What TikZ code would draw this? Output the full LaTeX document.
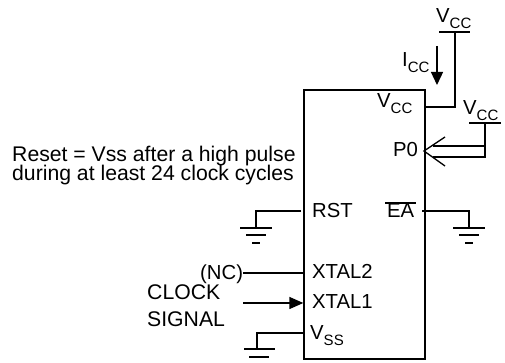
\documentclass[tikz,border=0pt]{standalone}
\usepackage{fontspec}
\setmainfont{Liberation Sans}
\usetikzlibrary{arrows.meta}
\usetikzlibrary{calc}
\tikzset{
    lbl/.style={inner sep=0pt,anchor=base west,font=\fontsize{20.3}{22}\selectfont},
    note/.style={lbl,font=\fontsize{21.2}{22}\selectfont},
    wire/.style={line width=1.3pt}
}
\newcommand{\subbed}[2]{#1\raisebox{-6pt}{\fontsize{15}{15}\selectfont #2}}
% ground symbol, three bars under a named point
\newcommand{\gnd}[1]{
\draw[wire] ($(#1)+(-16,0)$) -- ($(#1)+(16,0)$);
\draw[wire] ($(#1)+(-10,-7)$) -- ($(#1)+(10,-7)$);
\draw[wire] ($(#1)+(-4,-15)$) -- ($(#1)+(4,-15)$);
}
\begin{document}
\begin{tikzpicture}[x=1pt,y=1pt]
\useasboundingbox (0,0) rectangle (505,363);

\node[draw,line width=1.3pt,inner sep=0pt,minimum width=121pt,minimum height=269pt]
    (chip) at (364.5,138.5) {};

% supply
\node[lbl] (lvcctop) at (436,340) {\subbed{V}{CC}};
\node[lbl] (licc) at (402,296) {\subbed{I}{CC}};
\node[lbl] (lvccin) at (377,255) {\subbed{V}{CC}};
\node[lbl] (lvccp) at (463,248) {\subbed{V}{CC}};
\node[lbl] (lp0) at (393,206) {P0};
\coordinate (vcctop) at (455,331);
\coordinate (vccpin) at (425,256);
\draw[wire] (439,331) -- (470,331);
\draw[wire] (vccpin) -| (vcctop);
\coordinate (icca) at (437,317);
\coordinate (iccb) at (437,278);
\draw[wire,-{Triangle[length=13pt,width=12pt]}] (icca) -- (iccb);

\coordinate (vccp) at (485,240);
\coordinate (pa) at (433,217);
\coordinate (pb) at (433,206);
\draw[wire] (469,240) -- (501,240);
\draw[wire] (vccp) |- (pa);
\draw[wire] (vccp) |- (pb);
\draw[wire] (445,226) -- (424,212) -- (445,197);

% pins
\node[lbl] (lrst) at (312,145) {RST};
\node[lbl] (lea) at (387,145) {EA};
\node[lbl] (lxtalb) at (312,84) {XTAL2};
\node[lbl] (lxtala) at (312,54) {XTAL1};
\node[lbl] (lvss) at (310,23) {\subbed{V}{SS}};
\draw[wire] (385,160) -- (416,160);

\coordinate (rstp) at (301,152);
\coordinate (rstg) at (256,135);
\draw[wire] (rstp) -| (rstg);
\gnd{rstg}
\coordinate (eap) at (422,152);
\coordinate (eag) at (469,135);
\draw[wire] (eap) -| (eag);
\gnd{eag}
\coordinate (vssp) at (304,30);
\coordinate (vssg) at (257,14);
\draw[wire] (vssp) -| (vssg);
\draw[wire] (244,14) -- (275,14);
\draw[wire] (249,6) -- (269,6);

\coordinate (ncp) at (243,90);
\coordinate (clkp) at (243,60);
\draw[wire] (ncp) -- (ncp -| chip.west);
\draw[wire,-{Triangle[length=14pt,width=12pt]}] (clkp) -- (clkp -| chip.west);

\node[lbl] (lnc) at (200,83) {(NC)};
\node[note] (lclk) at (147,63) {CLOCK};
\node[note] (lsig) at (147,36) {SIGNAL};
\node[note] (lresa) at (12,201) {Reset = Vss after a high pulse};
\node[note] (lresb) at (12,182) {during at least 24 clock cycles};
\end{tikzpicture}
\end{document}
